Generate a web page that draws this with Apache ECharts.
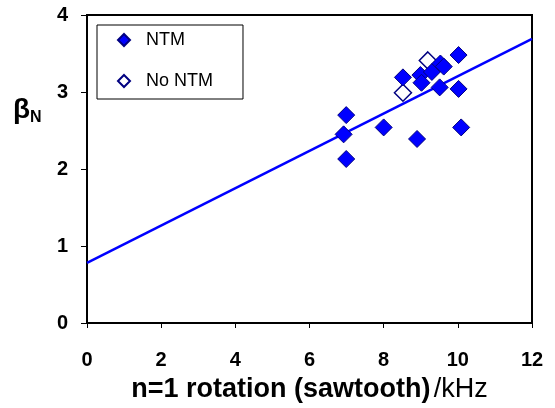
<!DOCTYPE html>
<html>
<head>
<meta charset="utf-8">
<script src="https://cdn.jsdelivr.net/npm/echarts@6/dist/echarts.min.js"></script>
<style>
  html, body { margin: 0; padding: 0; background: #fff; }
  #chart { width: 555px; height: 408px; }
</style>
</head>
<body>
<div id="chart"></div>
<script>
// data
const ntmRotation = [6.99, 6.92, 6.99, 8.0, 8.9, 10.09, 8.52, 8.99, 9.02, 9.30, 9.53, 9.62, 9.51, 10.02, 10.02]
const ntmBeta = [2.70, 2.45, 2.13, 2.54, 2.39, 2.54, 3.19, 3.22, 3.12, 3.26, 3.37, 3.33, 3.06, 3.48, 3.04]
const noNtmRotation = [8.52, 9.19]
const noNtmBeta = [2.99, 3.41]
const fitRotation = [0, 12]
const fitBeta = [0.78, 3.69]

const font = "'Liberation Sans', Arial, sans-serif"
const pairs = (xs, ys) => xs.map((x, i) => [x, ys[i]])

const chart = echarts.init(document.getElementById('chart'))
chart.setOption({
  animation: false,
  textStyle: { fontFamily: font },
  grid: {
    left: 87, right: 23, top: 15, bottom: 85,
    show: true, borderColor: '#000', borderWidth: 2
  },
  legend: {
    data: ['NTM', 'No NTM'],
    orient: 'vertical',
    left: 97, top: 25,
    padding: [6, 30, 9, 20],
    itemWidth: 12, itemHeight: 12, itemGap: 23,
    borderColor: '#000', borderWidth: 1,
    textStyle: { fontFamily: font, fontSize: 18, lineHeight: 18, color: '#000', padding: [0, 0, 0, 11] }
  },
  xAxis: {
    type: 'value', min: 0, max: 12, interval: 2,
    name: '{b|n=1 rotation (sawtooth)} {r|/kHz}',
    nameLocation: 'middle', nameGap: 53,
    nameTextStyle: {
      rich: {
        b: { fontFamily: font, fontSize: 27, fontWeight: 'bold', color: '#000' },
        r: { fontFamily: font, fontSize: 27, color: '#000' }
      }
    },
    axisLine: { show: true, lineStyle: { color: '#000', width: 2 } },
    axisTick: { show: true, length: 5, lineStyle: { color: '#000', width: 1 } },
    axisLabel: { fontFamily: font, fontSize: 20, fontWeight: 'bold', color: '#000', margin: 27 },
    splitLine: { show: false }
  },
  yAxis: {
    type: 'value', min: 0, max: 4, interval: 1,
    axisLine: { show: true, lineStyle: { color: '#000', width: 2 } },
    axisTick: { show: true, length: 6, lineStyle: { color: '#000', width: 1 } },
    axisLabel: { fontFamily: font, fontSize: 20, fontWeight: 'bold', color: '#000', margin: 19 },
    splitLine: { show: false }
  },
  graphic: [{
    type: 'text',
    left: 13, top: 96,
    style: {
      text: '{b|β}{n|N}',
      rich: {
        b: { fontFamily: font, fontSize: 28, fontWeight: 'bold', color: '#000' },
        n: { fontFamily: font, fontSize: 16, fontWeight: 'bold', color: '#000', padding: [16, 0, 0, 0] }
      }
    }
  }],
  series: [
    {
      name: 'fit',
      type: 'line',
      data: pairs(fitRotation, fitBeta),
      showSymbol: false,
      lineStyle: { color: '#0000ff', width: 2.5 },
      z: 1
    },
    {
      name: 'NTM',
      type: 'scatter',
      data: pairs(ntmRotation, ntmBeta),
      symbol: 'diamond',
      symbolSize: 17,
      itemStyle: { color: '#0000ff', borderColor: '#000080', borderWidth: 1, opacity: 1 },
      z: 3
    },
    {
      name: 'No NTM',
      type: 'scatter',
      data: pairs(noNtmRotation, noNtmBeta),
      symbol: 'diamond',
      symbolSize: 17,
      itemStyle: { color: '#ffffff', borderColor: '#000080', borderWidth: 1.5, opacity: 1 },
      z: 2
    }
  ]
})
</script>
</body>
</html>
